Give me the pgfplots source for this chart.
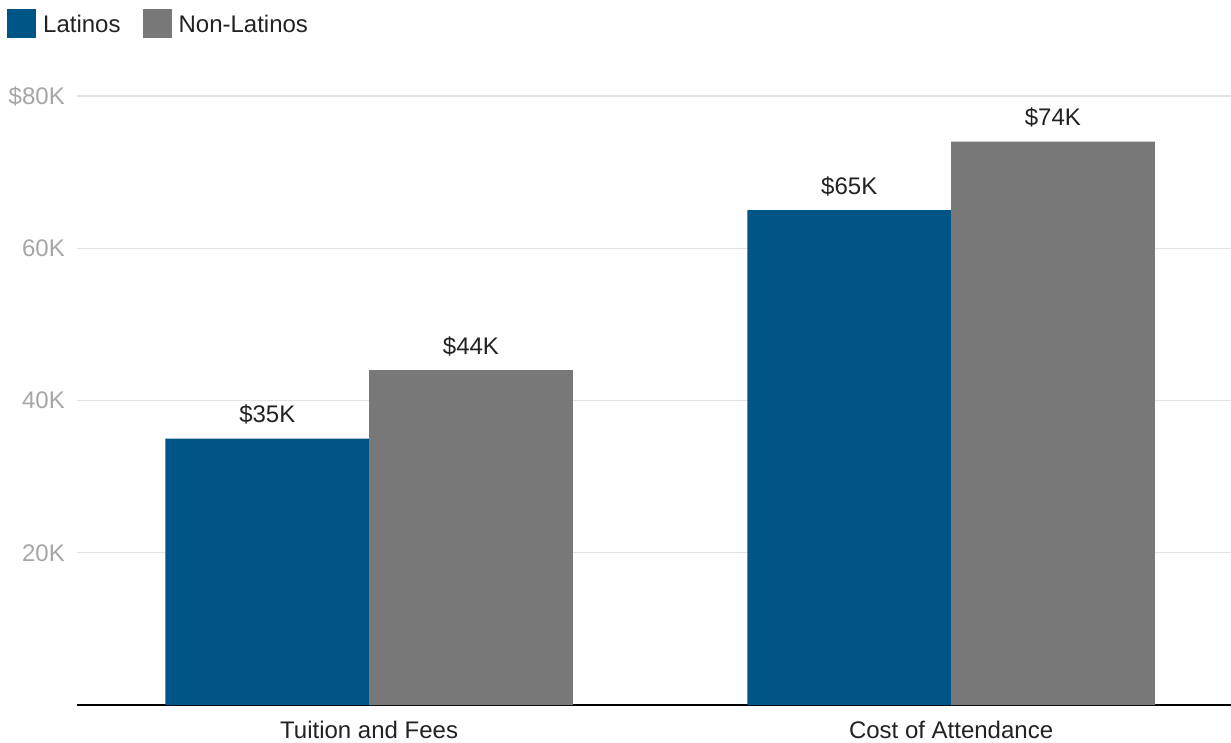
\documentclass[border=0pt]{standalone}
\usepackage{pgfplots}
\pgfplotsset{compat=1.18}
\usepackage{fontspec}
\setmainfont{Liberation Sans}

\definecolor{latblue}{HTML}{005587}
\definecolor{nongray}{HTML}{787878}
\definecolor{ticklab}{HTML}{A6A6A6}
\definecolor{gridc}{HTML}{E3E3E3}
\definecolor{valtext}{HTML}{222222}

\begin{document}
\begin{tikzpicture}[x=1pt,y=1pt,font=\fontsize{24}{28}\selectfont]
\path[use as bounding box] (-77,-37) rectangle (1154,705);
\begin{axis}[
    scale only axis,
    width=1154pt, height=609pt,
    xmin=-0.502, xmax=1.481,
    ymin=0, ymax=80000,
    ybar,
    axis x line*=bottom,
    axis y line*=left,
    x axis line style={black, line width=1.5pt},
    y axis line style={draw=none},
    major tick length=0pt,
    xtick={0,1},
    xticklabels={Tuition and Fees, Cost of Attendance},
    xticklabel style={anchor=north, inner sep=0pt, yshift=-16pt, text=valtext},
    ytick={20000,40000,60000,80000},
    yticklabels={20K,40K,60K,\$80K},
    yticklabel style={anchor=east, inner sep=0pt, xshift=-12pt, text=ticklab},
    scaled y ticks=false,
    ymajorgrids=true,
    grid style={gridc, line width=1.3pt},
    point meta=explicit symbolic,
    nodes near coords={\$\pgfplotspointmeta K},
    every node near coord/.append style={anchor=base, inner sep=0pt, yshift=16pt, text=valtext},
    legend columns=2,
    legend image code/.code={\fill[#1] (0pt,-14pt) rectangle (29pt,15pt);},
    legend style={
        draw=none, fill=none,
        at={(axis description cs:0,1)}, anchor=west,
        xshift=-70pt, yshift=72pt,
        inner xsep=0pt, inner ysep=0pt,
        nodes={inner xsep=0pt, text=valtext},
        /tikz/every odd column/.append style={column sep=7pt},
        /tikz/every even column/.append style={column sep=22pt},
    },
]
\addplot[fill=latblue, draw=none, bar width=0.35, bar shift=-0.175]
    coordinates {(0,35000) [35] (1,65000) [65]};
\addlegendentry{Latinos}
\addplot[fill=nongray, draw=none, bar width=0.35, bar shift=0.175]
    coordinates {(0,44000) [44] (1,74000) [74]};
\addlegendentry{Non-Latinos}
\end{axis}
\end{tikzpicture}
\end{document}
